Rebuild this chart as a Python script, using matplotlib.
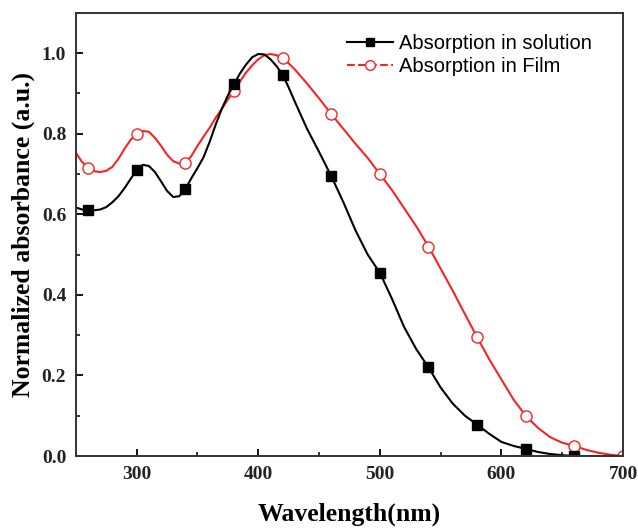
import numpy as np
import matplotlib
matplotlib.use('Agg')
from matplotlib import pyplot as plt
from matplotlib.lines import Line2D
from matplotlib.ticker import MultipleLocator

# wavelength grid (nm): 5 nm steps over the bumps, 10 nm after 430 nm
wavelength = list(range(250, 431, 5)) + list(range(440, 701, 10))

solution = [0.617, 0.612, 0.611, 0.61, 0.612, 0.618, 0.63, 0.645, 0.665, 0.688,
            0.71, 0.723, 0.72, 0.705, 0.682, 0.658, 0.643, 0.645, 0.663, 0.69,
            0.715, 0.742, 0.78, 0.823, 0.862, 0.895, 0.923, 0.95, 0.972, 0.99,
            0.998, 0.997, 0.985, 0.968, 0.947, 0.915, 0.88,
            0.813, 0.755, 0.695, 0.63, 0.56, 0.50, 0.455, 0.39, 0.32, 0.265,
            0.22, 0.17, 0.13, 0.10, 0.078, 0.055, 0.035, 0.025, 0.018, 0.01,
            0.005, 0.002, 0.0, 0.0, 0.0, 0.0, 0.0]

film = [0.753, 0.73, 0.716, 0.707, 0.705, 0.708, 0.718, 0.738, 0.763, 0.785,
        0.80, 0.807, 0.805, 0.79, 0.77, 0.748, 0.732, 0.726, 0.728, 0.745,
        0.77, 0.793, 0.815, 0.84, 0.862, 0.885, 0.906, 0.93, 0.952, 0.97,
        0.985, 0.995, 0.998, 0.995, 0.988, 0.975, 0.96,
        0.925, 0.888, 0.849, 0.812, 0.775, 0.74, 0.70, 0.66, 0.615, 0.57,
        0.52, 0.465, 0.41, 0.352, 0.295, 0.24, 0.19, 0.14, 0.10, 0.07,
        0.047, 0.033, 0.025, 0.015, 0.008, 0.003, 0.0]

# symbols every 40 nm
mark_solution = [260, 300, 340, 380, 420, 460, 500, 540, 580, 620, 660]
mark_film = [260, 300, 340, 380, 420, 460, 500, 540, 580, 620, 660, 700]

labels = ['Absorption in solution', 'Absorption in Film']

serif = ['Liberation Serif', 'DejaVu Serif']
sans = ['Liberation Sans', 'DejaVu Sans']

fig = plt.figure(figsize=(6.38, 5.30), dpi=100)
ax = fig.add_axes([0.119, 0.1396, 0.8575, 0.836])

red = '#f52525'
idx_s = [wavelength.index(w) for w in mark_solution]
idx_f = [wavelength.index(w) for w in mark_film]

ax.plot(wavelength, film, color=red, lw=1.5, marker='o', ms=8,
        mfc='white', mec=red, mew=1.0, markevery=idx_f)
ax.plot(wavelength, solution, color='black', lw=1.5, marker='s', ms=7,
        markevery=idx_s)

ax.set_xlim(250, 700)
ax.set_ylim(0, 1.1)
ax.xaxis.set_major_locator(MultipleLocator(100))
ax.xaxis.set_minor_locator(MultipleLocator(50))
ax.yaxis.set_major_locator(MultipleLocator(0.2))
ax.yaxis.set_minor_locator(MultipleLocator(0.1))
ax.tick_params(which='major', direction='in', length=5, width=1.3, pad=7)
ax.tick_params(which='minor', direction='in', length=3, width=1.1)

for s in ax.spines.values():
    s.set_linewidth(1.4)
    s.set_color('#333333')

for t in ax.get_xticklabels() + ax.get_yticklabels():
    t.set_fontfamily(serif)
    t.set_fontweight('bold')
    t.set_fontsize(14)
    t.set_color('#222222')

ax.set_xlabel('Wavelength(nm)', family=serif, weight='bold', fontsize=18.5,
              labelpad=14)
ax.set_ylabel('Normalized absorbance (a.u.)', family=serif, weight='bold',
              fontsize=18.5, labelpad=5)

handles = [Line2D([], [], color='black', lw=1.5, marker='s', ms=6),
           Line2D([], [], color=red, lw=1.5, ls='--', marker='o', ms=7,
                  mfc='white', mec=red)]
leg = ax.legend(handles, labels, loc='upper left', bbox_to_anchor=(0.495, 0.953),
                frameon=False, borderpad=0, borderaxespad=0, handlelength=2.3,
                handletextpad=0.3, labelspacing=0.2,
                prop={'family': sans, 'size': 14.5})

fig.savefig('out.png', dpi=100)
